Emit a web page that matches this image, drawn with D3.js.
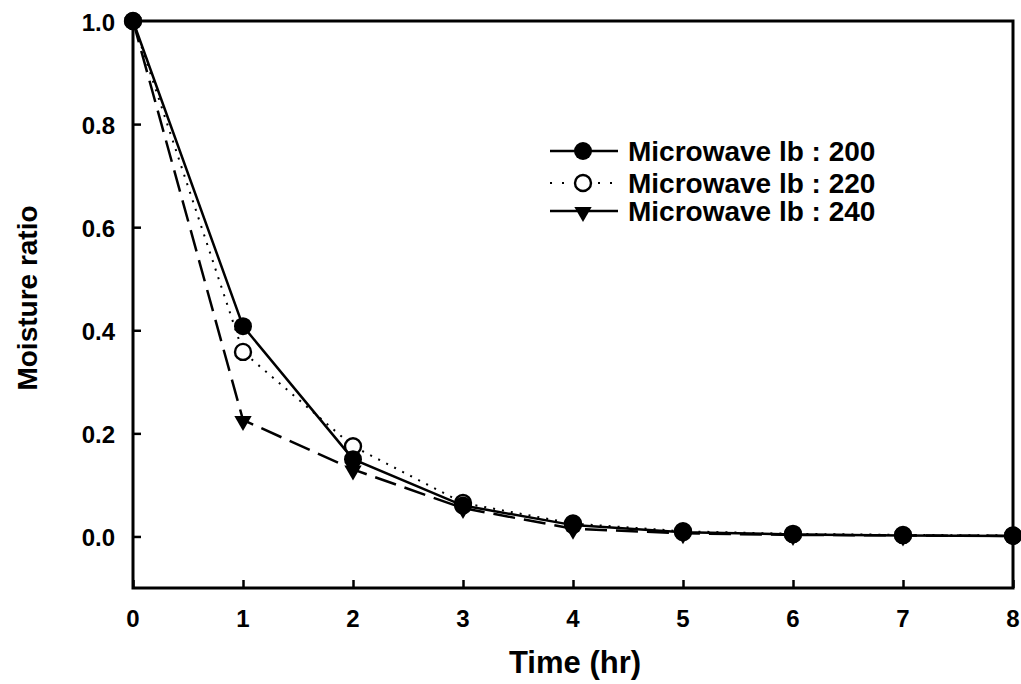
<!DOCTYPE html>
<html>
<head>
<meta charset="utf-8">
<script src="https://cdn.jsdelivr.net/npm/d3@7"></script>
<style>
  body { margin: 0; background: #fff; }
  text { font-family: "Liberation Sans", Arial, sans-serif; fill: #000; font-weight: bold; }
</style>
</head>
<body>
<div id="chart"></div>
<script>
const hours = [0, 1, 2, 3, 4, 5, 6, 7, 8];
const mw200 = [1.0, 0.408, 0.150, 0.060, 0.022, 0.008, 0.004, 0.002, 0.001];
const mw220 = [1.0, 0.358, 0.175, 0.065, 0.025, 0.010, 0.005, 0.003, 0.002];
const mw240 = [1.0, 0.226, 0.130, 0.055, 0.015, 0.006, 0.003, 0.002, 0.001];
const seriesNames = ["Microwave lb : 200", "Microwave lb : 220", "Microwave lb : 240"];
const xTicks = [0, 1, 2, 3, 4, 5, 6, 7, 8];
const yTicks = [0.0, 0.2, 0.4, 0.6, 0.8, 1.0];

const width = 1021, height = 684;
const margin = {left: 133, right: 8, top: 21, bottom: 96};

const svg = d3.select("#chart").append("svg")
    .attr("width", width)
    .attr("height", height);

const x = d3.scaleLinear().domain([0, 8]).range([margin.left, width - margin.right]);
const y = d3.scaleLinear().domain([-0.1, 1.0]).range([height - margin.bottom, margin.top]);

// frame
svg.append("rect")
    .attr("x", x(0)).attr("y", y(1.0))
    .attr("width", x(8) - x(0)).attr("height", y(-0.1) - y(1.0))
    .attr("fill", "none").attr("stroke", "#000").attr("stroke-width", 3);

// x axis, ticks pointing inward
const xAxis = svg.append("g")
    .attr("transform", `translate(0,${y(-0.1)})`)
    .call(d3.axisTop(x).tickValues(xTicks).tickSize(8).tickFormat(""));
xAxis.select(".domain").remove();
xAxis.selectAll("line").attr("stroke-width", 2.5);
svg.selectAll(".xlab").data(xTicks).enter().append("text")
    .attr("x", d => x(d)).attr("y", y(-0.1) + 39)
    .attr("text-anchor", "middle").attr("font-size", 24)
    .text(d => d);

// y axis
const yAxis = svg.append("g")
    .attr("transform", `translate(${x(0)},0)`)
    .call(d3.axisRight(y).tickValues(yTicks).tickSize(8).tickFormat(""));
yAxis.select(".domain").remove();
yAxis.selectAll("line").attr("stroke-width", 2.5);
svg.selectAll(".ylab").data(yTicks).enter().append("text")
    .attr("x", x(0) - 18).attr("y", d => y(d) + 10)
    .attr("text-anchor", "end").attr("font-size", 24)
    .text(d => d.toFixed(1));

// axis titles
svg.append("text")
    .attr("x", 575).attr("y", 673)
    .attr("text-anchor", "middle").attr("font-size", 31)
    .text("Time (hr)");
svg.append("text")
    .attr("transform", `translate(37,298) rotate(-90)`)
    .attr("text-anchor", "middle").attr("font-size", 28)
    .text("Moisture ratio");

const line = d3.line().x((d, i) => x(hours[i])).y(d => y(d));

const styles = [
  {data: mw200, dash: null, width: 2.5, symbol: "fill"},
  {data: mw220, dash: "2,7", width: 2, symbol: "open"},
  {data: mw240, dash: "22,9", width: 2.5, symbol: "tri"}
];

const tri = d3.symbol().type(d3.symbolTriangle).size(130);

function drawMarker(g, cx, cy, kind) {
  if (kind === "fill") {
    g.append("circle").attr("cx", cx).attr("cy", cy).attr("r", 9).attr("fill", "#000");
  } else if (kind === "open") {
    g.append("circle").attr("cx", cx).attr("cy", cy).attr("r", 8)
      .attr("fill", "#fff").attr("stroke", "#000").attr("stroke-width", 2.4);
  } else {
    g.append("path").attr("d", tri)
      .attr("transform", `translate(${cx},${cy + 1}) rotate(180)`).attr("fill", "#000");
  }
}

styles.forEach(s => {
  svg.append("path").datum(s.data)
    .attr("d", line)
    .attr("fill", "none").attr("stroke", "#000")
    .attr("stroke-width", s.width)
    .attr("stroke-dasharray", s.dash);
});

// markers: open first, then triangles, filled on top
const order = [1, 2, 0];
order.forEach(k => {
  const g = svg.append("g");
  styles[k].data.forEach((v, i) => drawMarker(g, x(hours[i]), y(v), styles[k].symbol));
});

// legend
const legendY = [151, 183, 211];
const legend = svg.append("g");
styles.forEach((s, i) => {
  legend.append("line")
    .attr("x1", 550).attr("x2", 618).attr("y1", legendY[i]).attr("y2", legendY[i])
    .attr("stroke", "#000").attr("stroke-width", s.width)
    .attr("stroke-dasharray", s.symbol === "open" ? "2,10" : null);
  drawMarker(legend, 583, legendY[i], s.symbol);
  legend.append("text")
    .attr("x", 628).attr("y", legendY[i] + 10)
    .attr("font-size", 28)
    .text(seriesNames[i]);
});
</script>
</body>
</html>
